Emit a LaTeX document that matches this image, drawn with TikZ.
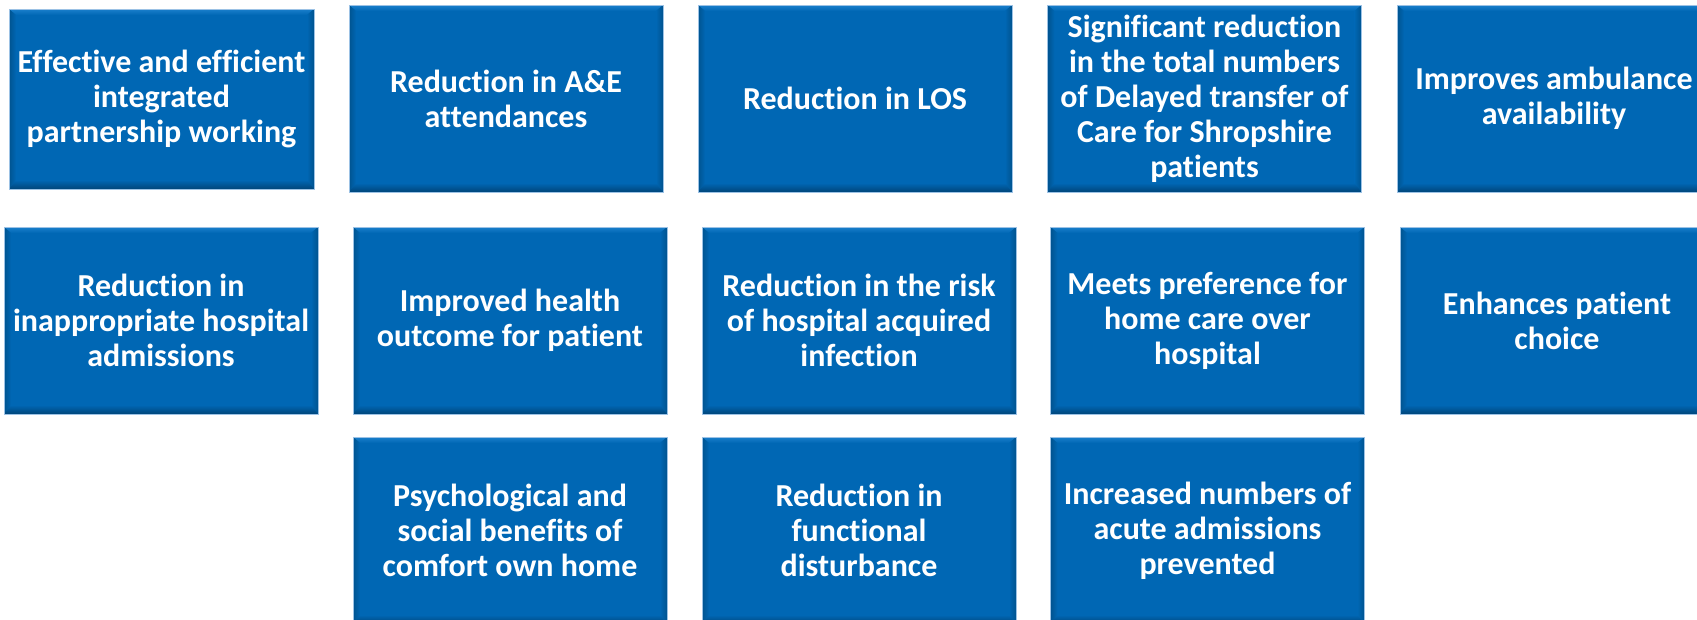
\documentclass[tikz,border=0pt]{standalone}
\usepackage{fontspec}
\setmainfont{Carlito}[Ligatures=NoCommon]
\definecolor{benefitblue}{HTML}{0067B4}
\definecolor{bevellight}{HTML}{1A7FCC}
\definecolor{bevelside}{HTML}{00538F}
\definecolor{beveldark}{HTML}{00457A}
\definecolor{edgeblue}{HTML}{9CC2E5}

\tikzset{
  benefit/.style={rectangle, fill=benefitblue, draw=edgeblue, line width=0.8pt,
    minimum width=314pt, minimum height=187pt, inner sep=0pt, align=center,
    text=white, font=\bfseries\fontsize{32}{35}\selectfont,
    path picture={
      \coordinate (nw) at (path picture bounding box.north west);
      \coordinate (ne) at (path picture bounding box.north east);
      \coordinate (sw) at (path picture bounding box.south west);
      \coordinate (se) at (path picture bounding box.south east);
      % top bevel
      \shade[top color=bevellight, bottom color=benefitblue]
        (nw) -- (ne) -- ([shift={(-7pt,-6pt)}]ne) -- ([shift={(7pt,-6pt)}]nw) -- cycle;
      % left and right bevels
      \shade[left color=bevelside, right color=benefitblue]
        (nw) -- ([shift={(7pt,-6pt)}]nw) -- ([shift={(7pt,9pt)}]sw) -- (sw) -- cycle;
      \shade[left color=benefitblue, right color=bevelside]
        (ne) -- ([shift={(-7pt,-6pt)}]ne) -- ([shift={(-7pt,9pt)}]se) -- (se) -- cycle;
      % bottom bevel
      \shade[top color=benefitblue, bottom color=beveldark]
        (sw) -- (se) -- ([shift={(-7pt,9pt)}]se) -- ([shift={(7pt,9pt)}]sw) -- cycle;
    }}
}

\begin{document}
\begin{tikzpicture}[x=1pt,y=-1pt]
\useasboundingbox (0,0) rectangle (1697,619);
\clip (0,0) rectangle (1697,619);

% row 1
\node[benefit, minimum width=305pt, minimum height=180pt] (eff) at (161.5,99)
  {Effective and efficient\\integrated\\partnership working};
\node[benefit] (aande) at (506,98.5) {Reduction in A\&E\\attendances};
\node[benefit] (los) at (855,98.5) {Reduction in LOS};
\node[benefit] (dtoc) at (1204.5,98.5)
  {Significant reduction\\in the total numbers\\of Delayed transfer of\\Care for Shropshire\\patients};
\node[benefit] (ambul) at (1554,98.5) {Improves ambulance\\availability};

% row 2
\node[benefit] (inapp) at (161,320.5) {Reduction in\\inappropriate hospital\\admissions};
\node[benefit] (outcome) at (510,320.5) {Improved health\\outcome for patient};
\node[benefit] (infect) at (859,320.5) {Reduction in the risk\\of hospital acquired\\infection};
\node[benefit] (homecare) at (1207.5,320.5) {Meets preference for\\home care over\\hospital};
\node[benefit] (choice) at (1557,320.5) {Enhances patient\\choice};

% row 3
\node[benefit] (psych) at (510,530.5) {Psychological and\\social benefits of\\comfort own home};
\node[benefit] (functional) at (859,530.5) {Reduction in\\functional\\disturbance};
\node[benefit] (acute) at (1207.5,530.5) {Increased numbers of\\acute admissions\\prevented};
\end{tikzpicture}
\end{document}
